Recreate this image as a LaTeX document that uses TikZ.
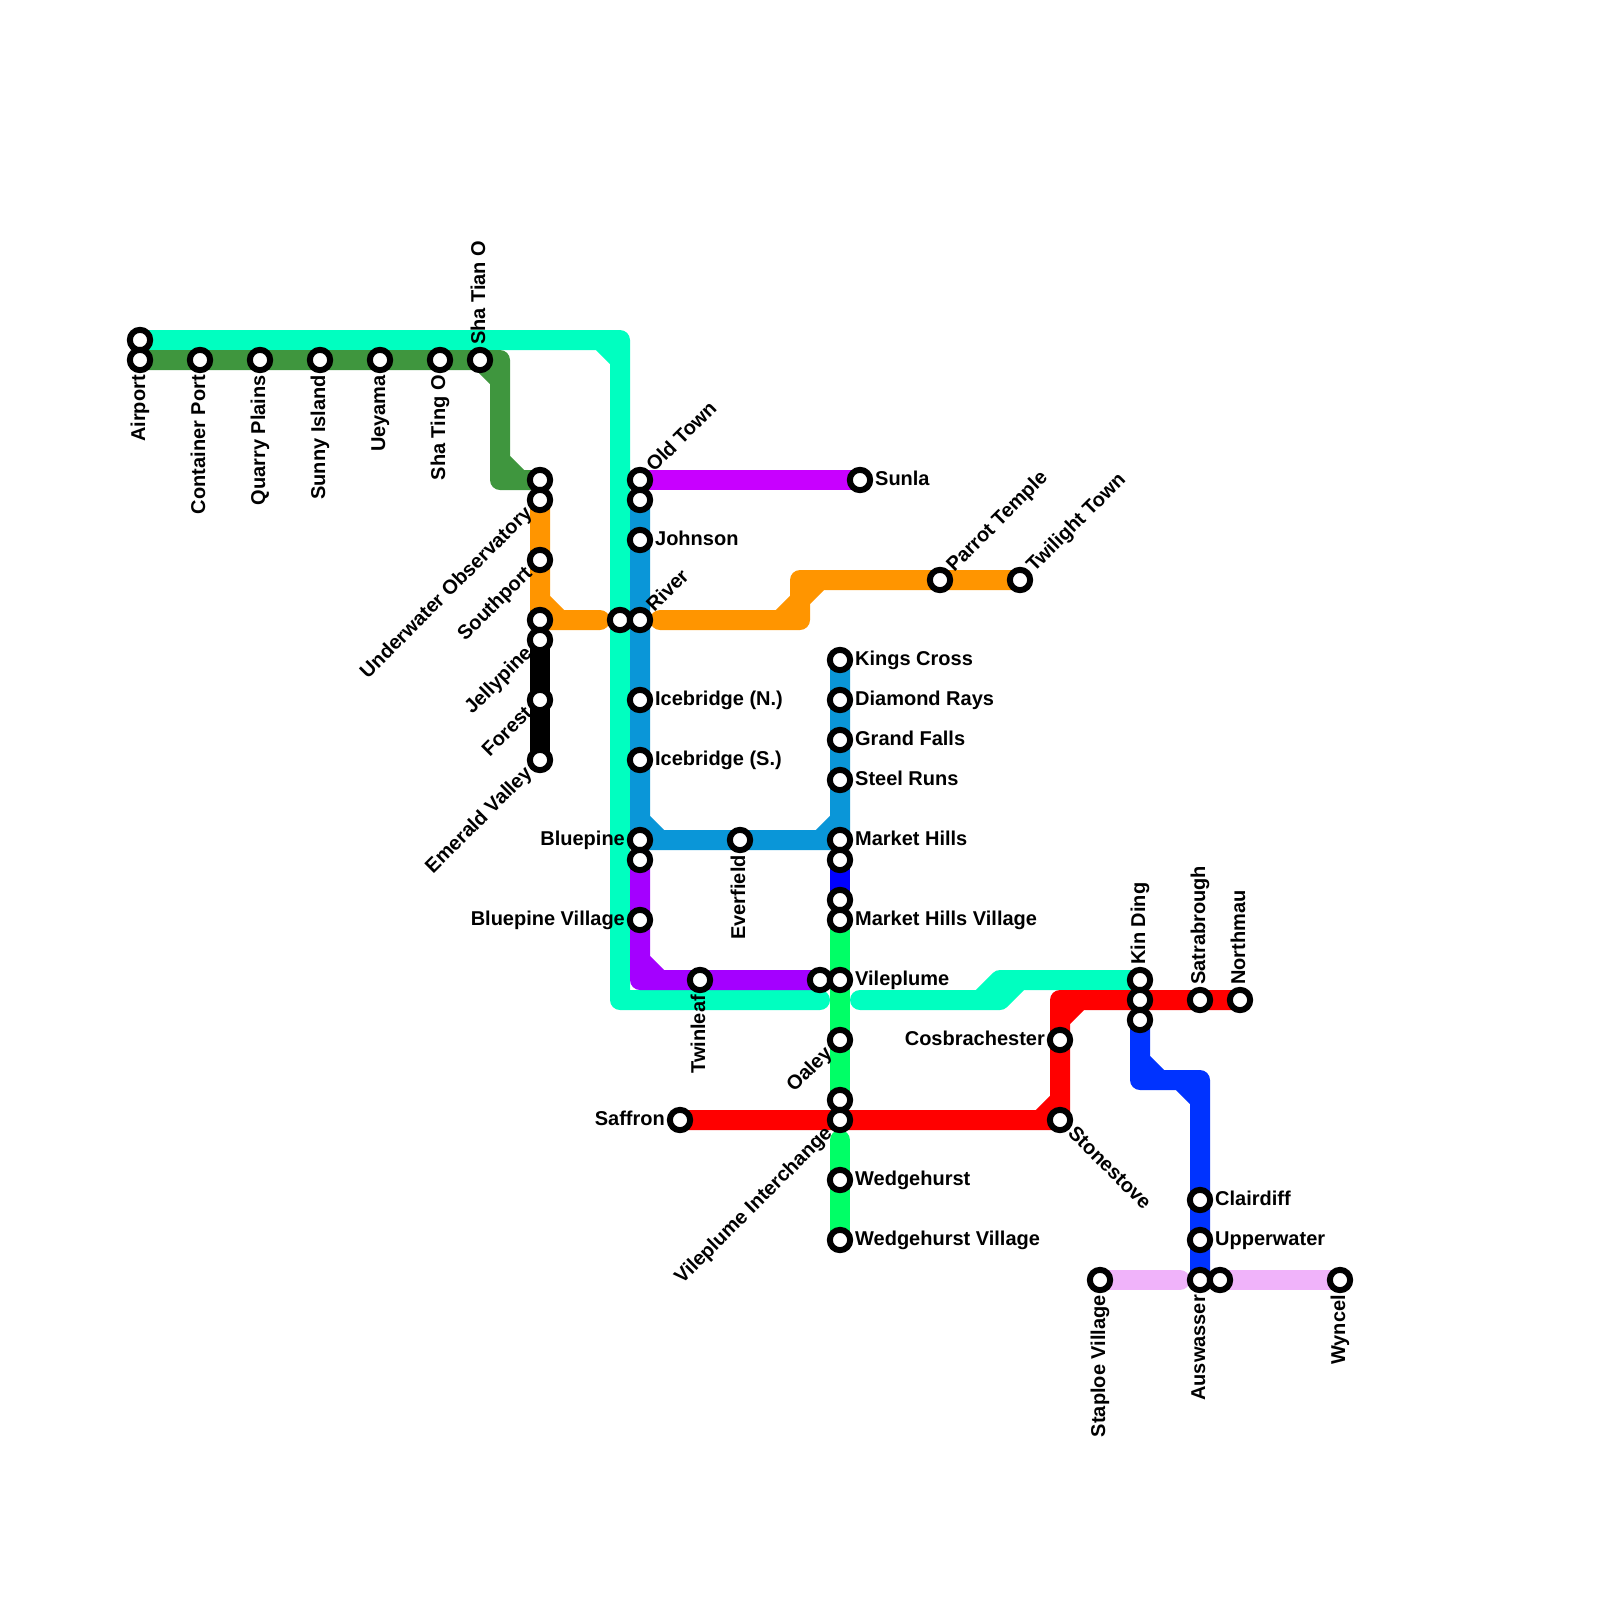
\documentclass[tikz,border=0pt]{standalone}
\usepackage{fontspec}
\setmainfont{Liberation Sans}
\usetikzlibrary{backgrounds}
\definecolor{teal}{HTML}{00FFC0}
\definecolor{forest}{HTML}{3F963E}
\definecolor{amber}{HTML}{FF9500}
\definecolor{sky}{HTML}{0A96D8}
\definecolor{royal}{HTML}{0000FF}
\definecolor{cobalt}{HTML}{0033FF}
\definecolor{magenta}{HTML}{C800FF}
\definecolor{violet}{HTML}{A400FF}
\definecolor{lime}{HTML}{00FF66}
\definecolor{pink}{HTML}{F0B3FA}

\begin{document}
\begin{tikzpicture}[x=0.25cm,y=-0.25cm,
  stn/.style={circle,draw=black,fill=white,line width=0.075cm,minimum size=0.254cm,inner sep=0pt},
  lbl/.style={font=\fontsize{7.11}{8.5}\selectfont\bfseries,inner ysep=0pt,inner xsep=0.018cm,text height=0.72em,text depth=0.35em},
  lr/.style={label={[lbl,anchor=west]0:#1}},
  ll/.style={label={[lbl,anchor=east]180:#1}},
  lt/.style={label={[lbl,rotate=90,anchor=west]90:#1}},
  lb/.style={label={[lbl,rotate=90,anchor=east]270:#1}},
  lne/.style={label={[lbl,rotate=45,anchor=west]45:#1}},
  lsw/.style={label={[lbl,rotate=45,anchor=east]225:#1}},
  lse/.style={label={[lbl,rotate=-45,anchor=west]315:#1}},
  metro/.style={line width=0.25cm,line cap=round,line join=round},
  label distance=0pt]
  \useasboundingbox (0,0) rectangle (80,80);
  \node[stn] (airporttop) at (7,17) {};
  \node[stn,lb=Airport] (airport) at (7,18) {};
  \node[stn,lb=Container Port] (container) at (10,18) {};
  \node[stn,lb=Quarry Plains] (quarry) at (13,18) {};
  \node[stn,lb=Sunny Island] (sunny) at (16,18) {};
  \node[stn,lb=Ueyama] (ueyama) at (19,18) {};
  \node[stn,lb=Sha Ting O] (shating) at (22,18) {};
  \node[stn,lt=Sha Tian O] (shatian) at (24,18) {};
  \node[stn] (undertop) at (27,24) {};
  \node[stn,lsw=Underwater Observatory] (under) at (27,25) {};
  \node[stn,lsw=Southport] (southport) at (27,28) {};
  \node[stn] (southend) at (27,31) {};
  \node[stn,lsw=Jellypine] (jellypine) at (27,32) {};
  \node[stn,lsw=Forest] (forest) at (27,35) {};
  \node[stn,lsw=Emerald Valley] (emerald) at (27,38) {};
  \node[stn] (rivertop) at (31,31) {};
  \node[stn,lne=Old Town] (oldtown) at (32,24) {};
  \node[stn] (oldlow) at (32,25) {};
  \node[stn,lr=Johnson] (johnson) at (32,27) {};
  \node[stn,lne=River] (river) at (32,31) {};
  \node[stn,lr=Icebridge (N.)] (icen) at (32,35) {};
  \node[stn,lr=Icebridge (S.)] (ices) at (32,38) {};
  \node[stn,ll=Bluepine] (bluepine) at (32,42) {};
  \node[stn] (bluelow) at (32,43) {};
  \node[stn,ll=Bluepine Village] (bluevillage) at (32,46) {};
  \node[stn,lb=Twinleaf] (twinleaf) at (35,49) {};
  \node[stn,lb=Everfield] (everfield) at (37,42) {};
  \node[stn] (violetend) at (41,49) {};
  \node[stn,lr=Sunla] (sunla) at (43,24) {};
  \node[stn,lne=Parrot Temple] (parrot) at (47,29) {};
  \node[stn,lne=Twilight Town] (twilight) at (51,29) {};
  \node[stn,lr=Kings Cross] (kings) at (42,33) {};
  \node[stn,lr=Diamond Rays] (diamond) at (42,35) {};
  \node[stn,lr=Grand Falls] (grand) at (42,37) {};
  \node[stn,lr=Steel Runs] (steel) at (42,39) {};
  \node[stn,lr=Market Hills] (market) at (42,42) {};
  \node[stn] (marketlow) at (42,43) {};
  \node[stn] (royalend) at (42,45) {};
  \node[stn,lr=Market Hills Village] (marketvillage) at (42,46) {};
  \node[stn,lr=Vileplume] (vileplume) at (42,49) {};
  \node[stn,lsw=Oaley] (oaley) at (42,52) {};
  \node[stn] (limemid) at (42,55) {};
  \node[stn,lsw=Vileplume Interchange] (interchange) at (42,56) {};
  \node[stn,lr=Wedgehurst] (wedge) at (42,59) {};
  \node[stn,lr=Wedgehurst Village] (wedgevillage) at (42,62) {};
  \node[stn,ll=Saffron] (saffron) at (34,56) {};
  \node[stn,ll=Cosbrachester] (cosbra) at (53,52) {};
  \node[stn,lse=Stonestove] (stonestove) at (53,56) {};
  \node[stn,lt=Kin Ding] (kinding) at (57,49) {};
  \node[stn] (kinmid) at (57,50) {};
  \node[stn] (kinlow) at (57,51) {};
  \node[stn,lt=Satrabrough] (satra) at (60,50) {};
  \node[stn,lt=Northmau] (northmau) at (62,50) {};
  \node[stn,lr=Clairdiff] (clairdiff) at (60,60) {};
  \node[stn,lr=Upperwater] (upper) at (60,62) {};
  \node[stn,lb=Auswasser] (auswasser) at (60,64) {};
  \node[stn] (pinkstart) at (61,64) {};
  \node[stn,lb=Staploe Village] (staploe) at (55,64) {};
  \node[stn,lb=Wyncel] (wyncel) at (67,64) {};
  \coordinate (tealA) at (31,17);
  \coordinate (tealB) at (31,50);
  \coordinate (tealC) at (41,50);
  \coordinate (tealD) at (43,50);
  \coordinate (tealE) at (50,50);
  \coordinate (tealF) at (50,49);
  \coordinate (forestA) at (25,18);
  \coordinate (forestB) at (25,24);
  \coordinate (amberA) at (30,31);
  \coordinate (amberB) at (33,31);
  \coordinate (amberC) at (40,31);
  \coordinate (amberD) at (40,29);
  \coordinate (violetA) at (32,49);
  \coordinate (limeA) at (42,57);
  \coordinate (redA) at (53,50);
  \coordinate (cobaltA) at (57,54);
  \coordinate (cobaltB) at (60,54);
  \coordinate (pinkA) at (59,64);
  \begin{scope}[on background layer]
    \draw[metro,teal] (airporttop.center)--(tealA)--(tealB)--(tealC) (tealA) ++(-1,0) -- ++(1,1);
    \draw[metro,teal] (tealD)--(tealE)--(tealF)--(kinding.center) (tealE) ++(-1,0) -- ++(1,-1) (tealF) ++(0,1) -- ++(1,-1);
    \draw[metro,forest] (airport.center)--(forestA)--(forestB)--(undertop.center) (forestA) ++(-1,0) -- ++(1,1) (forestB) ++(0,-1) -- ++(1,1);
    \draw[metro,amber] (under.center)--(southend.center)--(amberA) (southend.center) ++(0,-1) -- ++(1,1);
    \draw[metro,amber] (amberB)--(amberC)--(amberD)--(twilight.center) (amberC) ++(-1,0) -- ++(1,-1) (amberD) ++(0,1) -- ++(1,-1);
    \draw[metro,black] (jellypine.center)--(emerald.center);
    \draw[metro,magenta] (oldtown.center)--(sunla.center);
    \draw[metro,sky] (oldlow.center)--(bluepine.center)--(market.center)--(kings.center) (bluepine.center) ++(0,-1) -- ++(1,1) (market.center) ++(-1,0) -- ++(1,-1);
    \draw[metro,violet] (bluelow.center)--(violetA)--(violetend.center) (violetA) ++(0,-1) -- ++(1,1);
    \draw[metro,royal] (marketlow.center)--(royalend.center);
    \draw[metro,lime] (marketvillage.center)--(limemid.center);
    \draw[metro,lime] (limeA)--(wedgevillage.center);
    \draw[metro,red] (saffron.center)--(stonestove.center)--(redA)--(northmau.center) (stonestove.center) ++(-1,0) -- ++(1,-1) (redA) ++(0,1) -- ++(1,-1);
    \draw[metro,pink] (staploe.center)--(pinkA);
    \draw[metro,pink] (pinkstart.center)--(wyncel.center);
    \draw[metro,cobalt] (kinlow.center)--(cobaltA)--(cobaltB)--(auswasser.center) (cobaltA) ++(0,-1) -- ++(1,1) (cobaltB) ++(-1,0) -- ++(1,1);
  \end{scope}
\end{tikzpicture}
\end{document}
